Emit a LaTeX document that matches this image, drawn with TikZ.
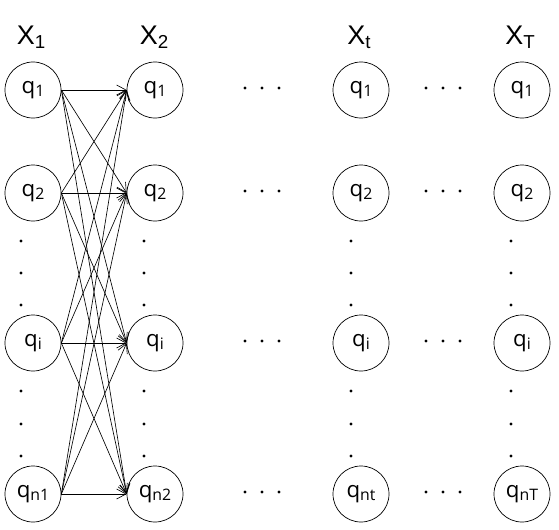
\documentclass[tikz,border=0pt]{standalone}
\usepackage{fontspec}
\setmainfont{Open Sans}
\newfontfamily\labfont{Liberation Sans}
\usepackage{tikz}
\usetikzlibrary{arrows.meta, positioning}

% state label q with a lowered subscript
\newcommand{\qst}[1]{q\raisebox{-0.12em}{\fontsize{13.5}{14}\selectfont #1}}
% column label X with a lowered subscript
\newcommand{\xlab}[1]{{\labfont\fontsize{23}{23}\selectfont X\raisebox{-0.15em}{\fontsize{16}{16}\selectfont #1}}}

\begin{document}
\begin{tikzpicture}[
    x=0.03cm, y=-0.03cm,
    state/.style={circle, draw, line width=0.6pt, minimum size=1.68cm, inner sep=0pt, font=\fontsize{19}{20}\selectfont},
    trans/.style={-{Straight Barb[length=2.8mm, width=3mm]}, line width=0.55pt},
    dot/.style={fill=black},
    collabel/.style={inner sep=0pt}
  ]
    \useasboundingbox (0,0) rectangle (559,529);

    % Column 1
    \node[collabel] (lab1) at (31,37) {\xlab{1}};
    \node[state] (a1) at (33,90) {\qst{1}};
    \node[state] (a2) at (33,193) {\qst{2}};
    \node[state] (a3) at (33,343) {\qst{i}};
    \node[state] (a4) at (33,494) {\qst{n1}};

    % Column 2
    \node[collabel] (lab2) at (154,37) {\xlab{2}};
    \node[state] (b1) at (155,90) {\qst{1}};
    \node[state] (b2) at (155,193) {\qst{2}};
    \node[state] (b3) at (155,343) {\qst{i}};
    \node[state] (b4) at (155,494) {\qst{n2}};

    % Column t
    \node[collabel] (labt) at (359,37) {\xlab{t}};
    \node[state] (c1) at (361,90) {\qst{1}};
    \node[state] (c2) at (361,193) {\qst{2}};
    \node[state] (c3) at (361,343) {\qst{i}};
    \node[state] (c4) at (361,494) {\qst{nt}};

    % Column T
    \node[collabel] (labT) at (520,37) {\xlab{T}};
    \node[state] (d1) at (522,90) {\qst{1}};
    \node[state] (d2) at (522,193) {\qst{2}};
    \node[state] (d3) at (522,343) {\qst{i}};
    \node[state] (d4) at (522,494) {\qst{nT}};

    % Transitions from column 1 to column 2
    \foreach \s in {1,...,4}
      \foreach \t in {1,...,4}
        \draw[trans] (a\s.east) -- (b\t.west);

    % Vertical dots
    \foreach \x in {21,144,351,511}
      \foreach \y in {241,273,305,391,424,456}
        \fill[dot] (\x,\y) circle (1.7);

    % Horizontal dots
    \foreach \y in {88,191,341,492}
      \foreach \x in {245,262,279,426,443,460}
        \fill[dot] (\x,\y) circle (1.7);

  \end{tikzpicture}
\end{document}
